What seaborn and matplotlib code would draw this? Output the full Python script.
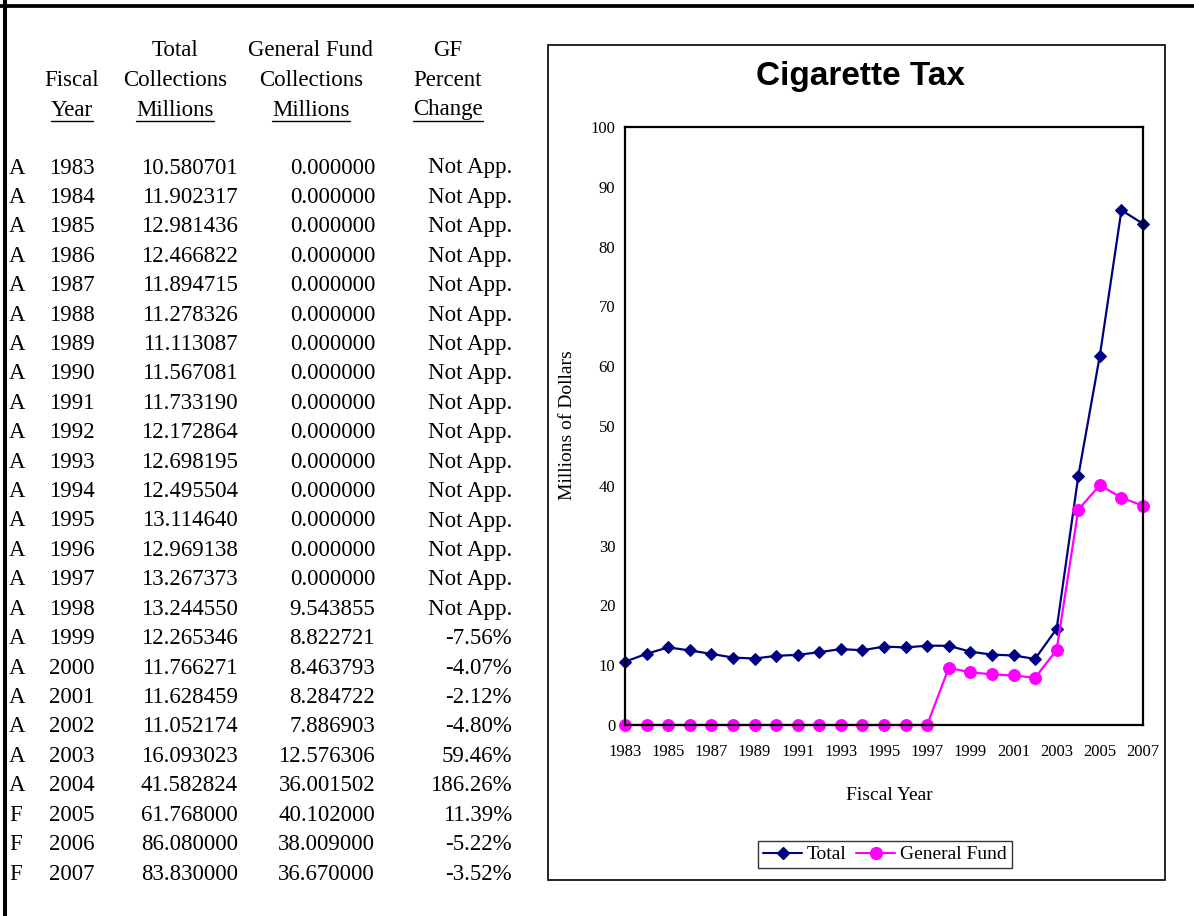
import matplotlib
matplotlib.use("Agg")
import matplotlib.pyplot as plt
import seaborn as sns
import pandas as pd
from matplotlib.lines import Line2D
from matplotlib.patches import Rectangle

# ---------------- data ----------------
status = ["A"] * 22 + ["F"] * 3
fiscal_years = list(range(1983, 2008))
total_collections = [10.580701, 11.902317, 12.981436, 12.466822, 11.894715,
                     11.278326, 11.113087, 11.567081, 11.733190, 12.172864,
                     12.698195, 12.495504, 13.114640, 12.969138, 13.267373,
                     13.244550, 12.265346, 11.766271, 11.628459, 11.052174,
                     16.093023, 41.582824, 61.768000, 86.080000, 83.830000]
general_fund = [0.0] * 15 + [9.543855, 8.822721, 8.463793, 8.284722, 7.886903,
                             12.576306, 36.001502, 40.102000, 38.009000, 36.670000]
gf_pct_change = ["Not App."] * 16 + ["-7.56%", "-4.07%", "-2.12%", "-4.80%",
                                     "59.46%", "186.26%", "11.39%", "-5.22%", "-3.52%"]

header_line1 = ["", "Total", "General Fund", "GF"]
header_line2 = ["Fiscal", "Collections", "Collections", "Percent"]
header_line3 = ["Year", "Millions", "Millions", "Change"]

chart_title = "Cigarette Tax"
y_label = "Millions of Dollars"
x_label = "Fiscal Year"
y_ticks = list(range(0, 101, 10))
x_tick_years = list(range(1983, 2008, 2))
series_names = ["Total", "General Fund"]

# ---------------- figure ----------------
W, H = 1194, 916
sns.set_theme(style="white")
plt.rcParams["font.family"] = ["Liberation Serif", "DejaVu Serif"]
plt.rcParams["text.color"] = "black"
plt.rcParams["axes.labelcolor"] = "black"
plt.rcParams["xtick.color"] = "black"
plt.rcParams["ytick.color"] = "black"
fig = plt.figure(figsize=(W / 100, H / 100), dpi=100)
fig.patch.set_facecolor("white")


def fx(px):
    return px / W


def fy(py):
    return 1 - py / H


# page border (top and left)
fig.add_artist(Line2D([0, 1], [fy(5.5), fy(5.5)], transform=fig.transFigure,
                      color="black", linewidth=2.7))
fig.add_artist(Line2D([fx(5.3), fx(5.3)], [0, 1], transform=fig.transFigure,
                      color="black", linewidth=2.9))

# ---------------- table ----------------
tfs = 16.5
col_centers = [72, 175, 311, 448]
header_texts = []
for i, c in enumerate(col_centers):
    if header_line1[i]:
        fig.text(fx(c), fy(50), header_line1[i], ha="center", va="center", fontsize=tfs, color="black")
    fig.text(fx(c), fy(80), header_line2[i], ha="center", va="center", fontsize=tfs, color="black")
    t = fig.text(fx(c), fy(110), header_line3[i], ha="center", va="center", fontsize=tfs, color="black")
    header_texts.append(t)

row0, row_step = 168, (874 - 168) / 24
for i in range(len(fiscal_years)):
    y = fy(row0 + i * row_step)
    fig.text(fx(9), y, status[i], ha="left", va="center", fontsize=tfs, color="black")
    fig.text(fx(72), y, str(fiscal_years[i]), ha="center", va="center", fontsize=tfs, color="black")
    fig.text(fx(238), y, f"{total_collections[i]:.6f}", ha="right", va="center", fontsize=tfs, color="black")
    fig.text(fx(375), y, f"{general_fund[i]:.6f}", ha="right", va="center", fontsize=tfs, color="black")
    fig.text(fx(512), y, gf_pct_change[i], ha="right", va="center", fontsize=tfs, color="black")

# ---------------- chart frame ----------------
fig.add_artist(Rectangle((fx(548), fy(880)), fx(1165) - fx(548), fy(45) - fy(880),
                         transform=fig.transFigure, fill=False,
                         edgecolor="black", linewidth=1.2))

ax = fig.add_axes([fx(625), fy(725), fx(1143) - fx(625), fy(127) - fy(725)])
ax.set_facecolor("white")

df_total = pd.DataFrame({"year": fiscal_years, "value": total_collections})
df_gf = pd.DataFrame({"year": fiscal_years, "value": general_fund})

sns.lineplot(data=df_total, x="year", y="value", ax=ax, color="#000080",
             marker="D", markersize=6.3, markeredgecolor="#000080",
             linewidth=1.6, label=series_names[0])
sns.lineplot(data=df_gf, x="year", y="value", ax=ax, color="#FF00FF",
             marker="o", markersize=8.5, markeredgecolor="#FF00FF",
             linewidth=1.6, label=series_names[1])
for ln in ax.lines:
    ln.set_clip_on(False)

ax.set_xlim(1983, 2007)
ax.set_ylim(0, 100)
ax.set_yticks(y_ticks)
ax.set_xticks(fiscal_years, minor=False)
ax.set_xticklabels([str(y) if y in x_tick_years else "" for y in fiscal_years])
ax.tick_params(axis="both", direction="in", length=5, width=1, color="black",
               labelsize=12, labelcolor="black")
ax.tick_params(axis="x", pad=14)
ax.tick_params(axis="y", pad=7)
for sp in ax.spines.values():
    sp.set_visible(True)
    sp.set_color("black")
    sp.set_linewidth(1.6)
ax.set_xlabel("")
ax.set_ylabel("")
ax.grid(False)

fig.text(fx(861), fy(76), chart_title, ha="center", va="center", fontsize=24,
         fontweight="bold", family=["Liberation Sans", "DejaVu Sans"], color="black")
fig.text(fx(567), fy(425), y_label, ha="center", va="center", rotation=90, fontsize=14, color="black")
fig.text(fx(889), fy(795), x_label, ha="center", va="center", fontsize=14, color="black")

handles = [Line2D([], [], color="#000080", marker="D", markersize=6.3, linewidth=1.5),
           Line2D([], [], color="#FF00FF", marker="o", markersize=8.5, linewidth=1.5)]
leg = ax.legend(handles, series_names, loc="center", bbox_to_anchor=(fx(885), fy(854.5)),
                bbox_transform=fig.transFigure, ncol=2, frameon=True, fancybox=False,
                edgecolor="black", fontsize=14, handlelength=2.0, handletextpad=0.25,
                columnspacing=0.5, borderpad=0.25, borderaxespad=0)
leg.get_frame().set_linewidth(1.0)
for txt in leg.get_texts():
    txt.set_color("black")

# underlines for header last line
fig.canvas.draw()
renderer = fig.canvas.get_renderer()
for t in header_texts:
    bb = t.get_window_extent(renderer=renderer)
    x0, x1 = bb.x0 / W, bb.x1 / W
    yline = fy(121)
    fig.add_artist(Line2D([x0, x1], [yline, yline], transform=fig.transFigure,
                          color="black", linewidth=1.0))

fig.savefig("out.png", dpi=100)
